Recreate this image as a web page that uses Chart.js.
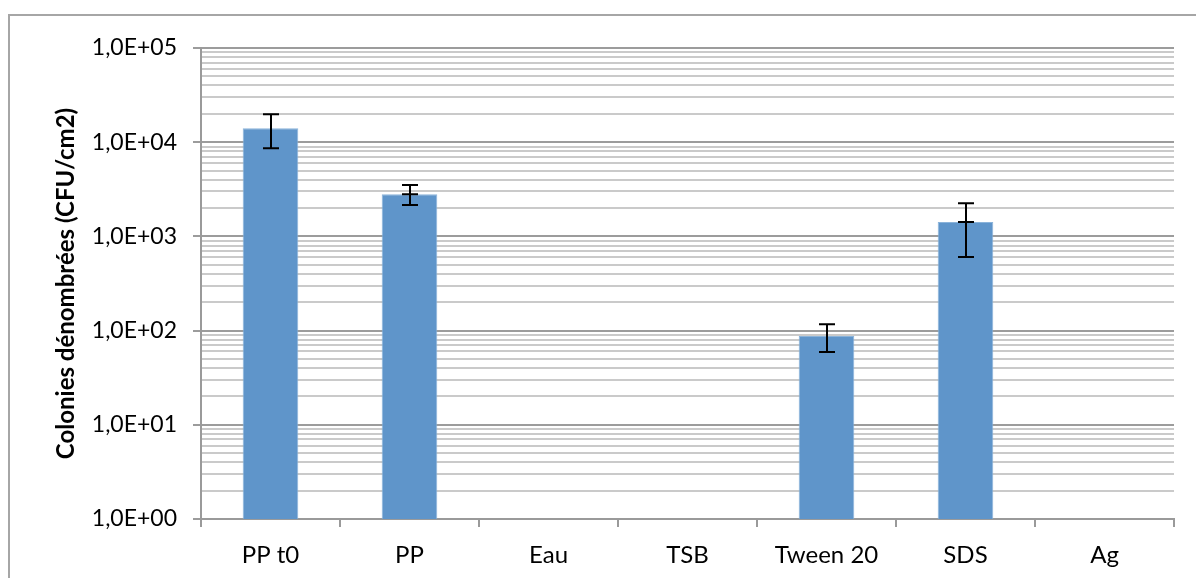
<!DOCTYPE html>
<html>
<head>
<meta charset="utf-8">
<script src="https://cdn.jsdelivr.net/npm/chart.js@4.4.1/dist/chart.umd.min.js"></script>
<style>
    html, body { margin: 0; padding: 0; background: #fff; overflow: hidden; }
    #frame {
        position: absolute; left: 8px; top: 14px; width: 1300px; height: 700px;
        border: 2px solid #a6a6a6;
    }
    #wrap { position: absolute; left: 0; top: 0; width: 1196px; height: 578px; }
</style>
</head>
<body>
<div id="frame"></div>
<div id="wrap"><canvas id="chart"></canvas></div>
<script>
const categories = ['PP t0', 'PP', 'Eau', 'TSB', 'Tween 20', 'SDS', 'Ag'];
const counts     = [14060, 2800, null, null, 87.7, 1422, null];
const errHigh    = [19800, 3515, null, null, 116.7, 2245, null];
const errLow     = [8620, 2155, null, null, 59.3, 604, null];
// Excel also drew a cap at the bar top for these two
const capAtValue = [false, true, false, false, false, true, false];
const yTickLabels = ['1,0E+00', '1,0E+01', '1,0E+02', '1,0E+03', '1,0E+04', '1,0E+05'];

const FONT = "Lato, 'Open Sans', sans-serif";

function isDecade(v) {
    const e = Math.log10(v);
    return Math.abs(e - Math.round(e)) < 1e-9;
}

const errorBars = {
    id: 'errorBars',
    afterDatasetsDraw(chart) {
        const { ctx } = chart;
        const y = chart.scales.y;
        const meta = chart.getDatasetMeta(0);
        const cap = 8;
        ctx.save();
        ctx.strokeStyle = '#000';
        ctx.lineWidth = 2;
        meta.data.forEach((bar, i) => {
            if (counts[i] == null) return;
            const x = Math.round(bar.x);
            const top = y.getPixelForValue(errHigh[i]);
            const bot = y.getPixelForValue(errLow[i]);
            ctx.beginPath();
            ctx.moveTo(x, top); ctx.lineTo(x, bot);
            ctx.moveTo(x - cap, top); ctx.lineTo(x + cap, top);
            ctx.moveTo(x - cap, bot); ctx.lineTo(x + cap, bot);
            if (capAtValue[i]) {
                const mid = y.getPixelForValue(counts[i]);
                ctx.moveTo(x - cap, mid); ctx.lineTo(x + cap, mid);
            }
            ctx.stroke();
        });
        ctx.restore();
    }
};

new Chart(document.getElementById('chart'), {
    type: 'bar',
    data: {
        labels: categories,
        datasets: [{
            data: counts,
            backgroundColor: '#5f95ca',
            borderColor: '#8ab3da',
            borderWidth: 1,
            barPercentage: 0.4,
            categoryPercentage: 1,
        }],
    },
    options: {
        responsive: true,
        maintainAspectRatio: false,
        animation: false,
        layout: { padding: { left: 0, right: 22, top: 48, bottom: 0 } },
        plugins: { legend: { display: false }, tooltip: { enabled: false } },
        scales: {
            x: {
                grid: {
                    offset: true, drawOnChartArea: false,
                    tickLength: 8, color: '#9a9a9a', lineWidth: 2,
                },
                border: { color: '#9a9a9a', width: 2 },
                ticks: { color: '#000', font: { family: FONT, size: 24 }, padding: 14 },
                afterFit(scale) { scale.height = 59; },
            },
            y: {
                type: 'logarithmic',
                min: 1,
                max: 100000,
                afterBuildTicks(scale) {
                    const ticks = [];
                    for (let e = 0; e < 5; e++) {
                        for (let d = 1; d < 10; d++) ticks.push({ value: d * Math.pow(10, e), major: d === 1 });
                    }
                    ticks.push({ value: 100000, major: true });
                    scale.ticks = ticks;
                },
                grid: {
                    color: (c) => (c.tick && isDecade(c.tick.value)) ? '#9c9c9c' : '#cacaca',
                    lineWidth: 2,
                    tickLength: 8,
                    tickColor: (c) => (c.tick && isDecade(c.tick.value)) ? '#9c9c9c' : 'rgba(0,0,0,0)',
                },
                border: { color: '#9a9a9a', width: 2 },
                ticks: {
                    autoSkip: false,
                    color: '#000',
                    padding: 16,
                    font: { family: FONT, size: 23 },
                    callback: (v) => isDecade(v) ? yTickLabels[Math.round(Math.log10(v))] : '',
                },
                title: {
                    display: true,
                    text: 'Colonies dénombrées (CFU/cm2)',
                    color: '#000',
                    font: { family: FONT, size: 24, weight: 'bold' },
                    padding: { top: 52, bottom: 0 },
                },
                afterFit(scale) { scale.width = 201; },
            },
        },
    },
    plugins: [errorBars],
});
</script>
</body>
</html>
